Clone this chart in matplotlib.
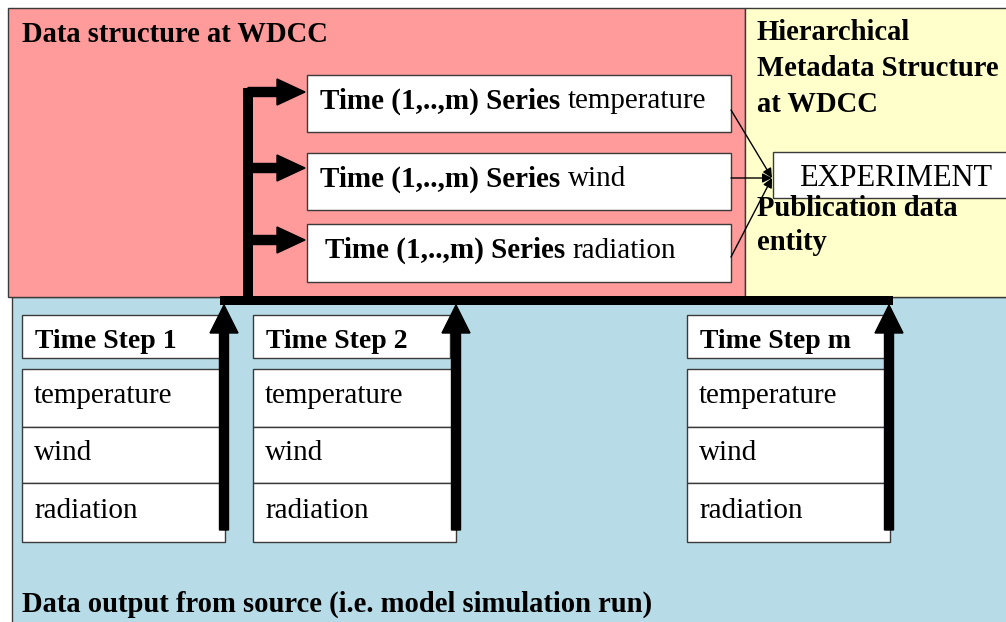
import matplotlib
matplotlib.use("Agg")
import matplotlib.pyplot as plt
from matplotlib.patches import Rectangle, FancyArrow

# ---- content ----
variables = ["temperature", "wind", "radiation"]
step_labels = ["Time Step 1", "Time Step 2", "Time Step m"]
series_prefix = "Time (1,..,m) Series "
title_wdcc = "Data structure at WDCC"
title_meta = ["Hierarchical", "Metadata Structure", "at WDCC"]
title_pub = ["Publication data", "entity"]
experiment_label = "EXPERIMENT"
title_source = "Data output from source (i.e. model simulation run)"

# ---- layout (pixel coordinates, y downward) ----
W, H = 1006, 622
FONT = "Liberation Serif"
PINK, YELLOW, BLUE = "#FF9B9B", "#FFFFCC", "#B7DCE8"
EDGE = "#3a3a3a"
FS_TITLE = 20.6
FS_ITEM = 21
FS_SERIES = 21

fig = plt.figure(figsize=(W / 100, H / 100), dpi=100)
ax = fig.add_axes([0, 0, 1, 1])
ax.set_xlim(0, W)
ax.set_ylim(H, 0)
ax.axis("off")
fig.patch.set_facecolor("white")

def rect(x0, y0, x1, y1, fc, ec=EDGE, lw=1.0, z=1):
    ax.add_patch(Rectangle((x0, y0), x1 - x0, y1 - y0, facecolor=fc,
                           edgecolor=ec, linewidth=lw, zorder=z))

# background regions
rect(12, 297, 1012, 630, BLUE, z=0)
rect(8, 8, 745, 297, PINK, z=1)
rect(745, 8, 1012, 297, YELLOW, z=1)

ax.text(22, 34, title_wdcc, family=FONT, weight="bold", fontsize=FS_TITLE,
        va="center", ha="left", zorder=5)
for i, line in enumerate(title_meta):
    ax.text(757, 33 + i * 35.5, line, family=FONT, weight="bold",
            fontsize=FS_TITLE, va="center", ha="left", zorder=5)
for i, line in enumerate(title_pub):
    ax.text(757, 208 + i * 34, line, family=FONT, weight="bold",
            fontsize=FS_TITLE, va="center", ha="left", zorder=5)
ax.text(22, 604, title_source, family=FONT, weight="bold", fontsize=FS_TITLE,
        va="center", ha="left", zorder=5)

# series boxes
series_boxes = [(75, 132), (153, 210), (224, 282)]
series_text_x = [320, 320, 325]
series_arrow_y = [92, 168, 240]
fig.canvas.draw()
renderer = fig.canvas.get_renderer()
for (y0, y1), tx, var in zip(series_boxes, series_text_x, variables):
    rect(307, y0, 731, y1, "white", z=3)
    yc = (y0 + y1) / 2 + 5
    t = ax.text(tx, yc, series_prefix, family=FONT, weight="bold",
                fontsize=FS_SERIES, va="baseline", ha="left", zorder=5)
    bb = t.get_window_extent(renderer=renderer)
    x_end = ax.transData.inverted().transform((bb.x1, bb.y0))[0]
    ax.text(x_end, yc, var, family=FONT, fontsize=FS_SERIES,
            va="baseline", ha="left", zorder=5)

# experiment box
rect(773, 152, 1012, 198, "white", z=3)
ax.text(896, 178, experiment_label, family=FONT, fontsize=22,
        va="center", ha="center", zorder=5)

# thin links to EXPERIMENT
link_starts = [(731, 110), (731, 178), (731, 257)]
for sx, sy in link_starts:
    ax.annotate("", xy=(772, 178), xytext=(sx, sy),
                arrowprops=dict(arrowstyle="-|>", color="black", lw=1.0,
                                mutation_scale=14, shrinkA=0, shrinkB=0),
                zorder=6)

# time step boxes
step_x = [(22, 220, 225), (253, 450, 456), (687, 885, 890)]
item_rows = [(369, 427), (427, 483), (483, 542)]
for (x0, xh, xi), lbl in zip(step_x, step_labels):
    rect(x0, 315, xh, 358, "white", z=3)
    ax.text(x0 + 13, 341, lbl, family=FONT, weight="bold", fontsize=20,
            va="center", ha="left", zorder=5)
    for (r0, r1), var in zip(item_rows, variables):
        rect(x0, r0, xi, r1, "white", z=3)
        ax.text(x0 + 12, (r0 + r1) / 2 - 2, var, family=FONT,
                fontsize=FS_ITEM, va="center", ha="left", zorder=5)

# thick arrows
stem_x = 248
ax.add_patch(Rectangle((stem_x - 5, series_arrow_y[0] - 4.5), 10,
                       300 - series_arrow_y[0], facecolor="black",
                       edgecolor="none", zorder=7))
for ay in series_arrow_y:
    ax.add_patch(FancyArrow(stem_x, ay, 305 - stem_x, 0, width=9,
                            head_width=26, head_length=28,
                            length_includes_head=True, color="black",
                            zorder=7))
# collector bar
ax.add_patch(Rectangle((220, 296), 893 - 220, 9, facecolor="black",
                       edgecolor="none", zorder=7))
for vx in [224, 456, 889]:
    ax.add_patch(FancyArrow(vx, 530, 0, 305 - 530, width=9,
                            head_width=28, head_length=28,
                            length_includes_head=True, color="black",
                            zorder=7))

fig.savefig("out.png", dpi=100)
